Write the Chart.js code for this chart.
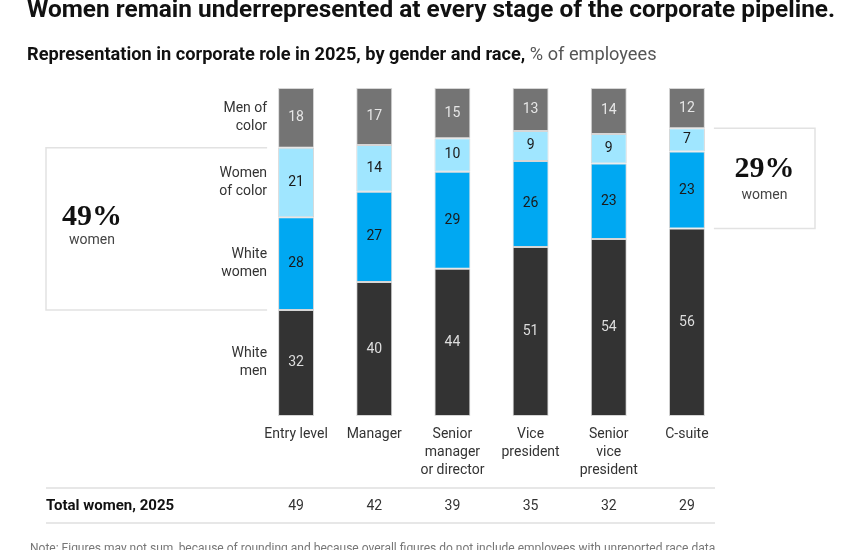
<!DOCTYPE html>
<html>
<head>
<meta charset="utf-8">
<script src="https://cdn.jsdelivr.net/npm/chart.js@4.4.1/dist/chart.umd.min.js"></script>
<style>
  body { margin: 0; background: #fff; font-family: Roboto, "Liberation Sans", sans-serif; }
  #wrap { position: relative; width: 850px; height: 550px; overflow: hidden; }
  #grafica { position: absolute; left: 0; top: 0; }
  .titulo { position: absolute; left: 27px; top: -6px; font-size: 24.4px; font-weight: bold; color: #111; white-space: nowrap; }
  .subtitulo { position: absolute; left: 27px; top: 43px; font-size: 18.2px; font-weight: bold; color: #111; white-space: nowrap; }
  .subtitulo span { font-weight: normal; color: #555; }
  .nota { position: absolute; left: 30px; top: 541px; font-size: 12px; color: #777; white-space: nowrap; }
</style>
</head>
<body>
<div id="wrap">
  <canvas id="grafica" width="850" height="550"></canvas>
  <div class="titulo">Women remain underrepresented at every stage of the corporate pipeline.</div>
  <div class="subtitulo">Representation in corporate role in 2025, by gender and race, <span>% of employees</span></div>
  <div class="nota">Note: Figures may not sum, because of rounding and because overall figures do not include employees with unreported race data.</div>
</div>
<script>
var niveles = [["Entry level"], ["Manager"], ["Senior", "manager", "or director"], ["Vice", "president"], ["Senior", "vice", "president"], ["C-suite"]];
var grupos = [["White", "men"], ["White", "women"], ["Women", "of color"], ["Men of", "color"]];
var hombresBlancos = [32, 40, 44, 51, 54, 56];
var mujeresBlancas = [28, 27, 29, 26, 23, 23];
var mujeresColor = [21, 14, 10, 9, 9, 7];
var hombresColor = [18, 17, 15, 13, 14, 12];
var totalMujeres = [49, 42, 39, 35, 32, 29];
var colores = ["#333333", "#00a8f2", "#a0e6ff", "#747474"];
var coloresTexto = ["#dddddd", "#1a1a1a", "#1a1a1a", "#e6e6e6"];

var series = [hombresBlancos, mujeresBlancas, mujeresColor, hombresColor];

// las barras llenan el 100% de la altura
var sumas = niveles.map(function (n, i) {
  return series.reduce(function (a, s) { return a + s[i]; }, 0);
});

var datasets = series.map(function (s, k) {
  return {
    label: grupos[k].join(" "),
    data: s.map(function (v, i) { return v / sumas[i] * 100; }),
    crudos: s,
    backgroundColor: colores[k],
    borderColor: "#d6d6d6",
    borderWidth: 1,
    borderSkipped: false,
    barPercentage: 0.92,
    categoryPercentage: 0.5
  };
});

var etiquetas = {
  id: "etiquetas",
  afterDatasetsDraw: function (chart) {
    var ctx = chart.ctx;
    var xs = chart.scales.x;
    ctx.save();
    ctx.textAlign = "center";
    ctx.textBaseline = "middle";
    ctx.font = "14px Roboto, 'Liberation Sans', sans-serif";
    chart.data.datasets.forEach(function (ds, k) {
      var meta = chart.getDatasetMeta(k);
      meta.data.forEach(function (el, i) {
        ctx.fillStyle = coloresTexto[k];
        ctx.fillText(ds.crudos[i], el.x, (el.y + el.base) / 2);
      });
    });

    // nombres de grupo a la izquierda de la primera barra
    ctx.textAlign = "right";
    ctx.fillStyle = "#333";
    chart.data.datasets.forEach(function (ds, k) {
      var el = chart.getDatasetMeta(k).data[0];
      var yc = (el.y + el.base) / 2;
      var x = el.x - el.width / 2 - 11;
      ctx.fillText(grupos[k][0], x, yc - 9);
      ctx.fillText(grupos[k][1], x, yc + 9);
    });

    // recuadros de % mujeres
    var a0 = chart.getDatasetMeta(2).data[0];
    var b0 = chart.getDatasetMeta(1).data[0];
    var izq = 46, der = a0.x - a0.width / 2 - 11;
    ctx.strokeStyle = "#e2e2e2";
    ctx.lineWidth = 1.5;
    ctx.beginPath();
    ctx.moveTo(der, a0.y); ctx.lineTo(izq, a0.y); ctx.lineTo(izq, b0.base); ctx.lineTo(der, b0.base);
    ctx.stroke();

    var n = niveles.length - 1;
    var a5 = chart.getDatasetMeta(2).data[n];
    var b5 = chart.getDatasetMeta(1).data[n];
    var ini = a5.x + a5.width / 2 + 9, fin = 815;
    ctx.beginPath();
    ctx.moveTo(ini, a5.y); ctx.lineTo(fin, a5.y); ctx.lineTo(fin, b5.base); ctx.lineTo(ini, b5.base);
    ctx.stroke();

    ctx.textAlign = "center";
    ctx.fillStyle = "#111";
    ctx.font = "bold 30px 'Liberation Serif', serif";
    ctx.fillText(totalMujeres[0] + "%", 92, 217);
    ctx.fillText(totalMujeres[n] + "%", (ini + fin) / 2, 169);
    ctx.font = "14px Roboto, 'Liberation Sans', sans-serif";
    ctx.fillStyle = "#444";
    ctx.fillText("women", 92, 240);
    ctx.fillText("women", (ini + fin) / 2, 195);

    // fila de total mujeres
    ctx.strokeStyle = "#e0e0e0";
    ctx.lineWidth = 1.5;
    ctx.beginPath();
    ctx.moveTo(46, 488); ctx.lineTo(715, 488);
    ctx.moveTo(46, 523); ctx.lineTo(715, 523);
    ctx.stroke();
    ctx.textAlign = "left";
    ctx.fillStyle = "#111";
    ctx.font = "bold 15px Roboto, 'Liberation Sans', sans-serif";
    ctx.fillText("Total women, 2025", 46, 506);
    ctx.textAlign = "center";
    ctx.font = "14px Roboto, 'Liberation Sans', sans-serif";
    ctx.fillStyle = "#333";
    totalMujeres.forEach(function (v, i) {
      ctx.fillText(v, xs.getPixelForValue(i), 506);
    });
    ctx.restore();
  }
};

var ctx = document.getElementById("grafica").getContext("2d");
var myChart = new Chart(ctx, {
  type: "bar",
  data: { labels: niveles, datasets: datasets },
  options: {
    responsive: false,
    animation: false,
    layout: { padding: { left: 257, right: 124, top: 88, bottom: 44 } },
    plugins: { legend: { display: false }, tooltip: { enabled: false } },
    scales: {
      x: {
        stacked: true,
        grid: { display: false, drawTicks: false, tickLength: 0 },
        border: { display: false },
        ticks: {
          color: "#333",
          padding: 10,
          maxRotation: 0,
          autoSkip: false,
          font: { size: 14, family: "Roboto, 'Liberation Sans', sans-serif", lineHeight: 1.28 }
        },
        afterFit: function (s) { s.height = 90; }
      },
      y: { stacked: true, min: 0, max: 100, display: false }
    }
  },
  plugins: [etiquetas]
});
</script>
</body>
</html>
